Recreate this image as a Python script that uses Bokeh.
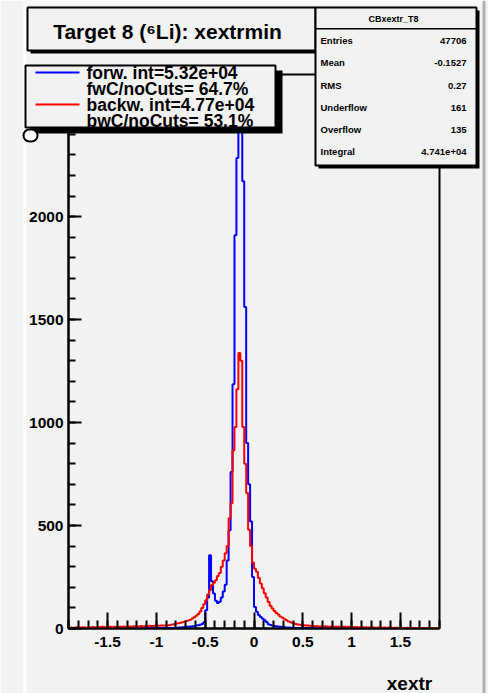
import numpy as np
from bokeh.plotting import figure
from bokeh.models import Range1d, FixedTicker, BoxAnnotation, Label
from bokeh.embed import file_html
from bokeh.resources import INLINE

# ---------------- data ----------------
bin_low = -1.9
bin_width = 0.02

forw_counts = [
    0, 0, 0, 0, 0, 0, 0, 0, 0, 0,
    0, 0, 0, 0, 0, 0, 0, 0, 0, 0,
    0, 0, 0, 0, 0, 0, 1, 0, 0, 0,
    0, 1, 0, 0, 1, 0, 0, 1, 0, 1,
    1, 0, 1, 1, 0, 1, 1, 2, 1, 2,
    2, 2, 3, 3, 4, 4, 5, 5, 6, 7,
    8, 9, 10, 11, 12, 14, 16, 18, 22, 30,
    89, 150, 356, 230, 170, 135, 124, 130, 150, 180,
    212, 330, 477, 760, 1186, 1909, 2284, 2560, 2480, 2172,
    1561, 901, 700, 520, 250, 105, 81, 65, 56, 47,
    40, 32, 21, 17, 14, 12, 11, 10, 8, 7,
    6, 5, 5, 4, 4, 3, 3, 3, 2, 2,
    2, 2, 2, 1, 1, 1, 1, 1, 1, 1,
    1, 1, 1, 0, 1, 1, 0, 1, 0, 1,
    0, 0, 1, 0, 0, 1, 0, 0, 0, 0,
    0, 0, 0, 0, 0, 0, 0, 0, 0, 0,
    0, 0, 0, 0, 0, 0, 0, 0, 0, 0,
    0, 0, 0, 0, 0, 0, 0, 0, 0, 0,
    0, 0, 0, 0, 0, 0, 0, 0, 0, 0,
]

backw_counts = [
    4, 5, 3, 5, 6, 4, 5, 6, 5, 4,
    6, 5, 7, 6, 5, 7, 6, 8, 7, 6,
    7, 8, 6, 9, 8, 7, 9, 8, 10, 9,
    8, 10, 9, 11, 10, 9, 11, 12, 10, 12,
    11, 13, 12, 12, 13, 14, 13, 15, 14, 15,
    15, 16, 18, 20, 22, 24, 26, 28, 30, 33,
    36, 39, 42, 48, 55, 62, 70, 82, 99, 118,
    137, 165, 186, 211, 222, 234, 255, 270, 300, 330,
    365, 400, 535, 608, 866, 979, 1162, 1338, 1300, 979,
    800, 658, 480, 400, 320, 290, 275, 245, 218, 195,
    171, 150, 129, 110, 97, 85, 75, 68, 58, 53,
    47, 41, 35, 32, 28, 24, 22, 20, 18, 17,
    16, 15, 14, 13, 12, 11, 11, 11, 10, 10,
    10, 11, 10, 9, 10, 9, 9, 8, 9, 8,
    8, 8, 7, 8, 7, 7, 6, 7, 6, 6,
    6, 5, 6, 5, 5, 6, 5, 4, 5, 5,
    4, 5, 4, 4, 5, 4, 3, 4, 4, 3,
    4, 3, 3, 4, 3, 3, 2, 3, 3, 2,
    3, 2, 3, 2, 2, 3, 2, 2, 3, 2,
]

x_tick_values = [-1.5, -1, -0.5, 0, 0.5, 1, 1.5]
x_tick_labels = ["-1.5", "-1", "-0.5", "0", "0.5", "1", "1.5"]
y_tick_values = [0, 500, 1000, 1500, 2000, 2500]
y_tick_labels = ["0", "500", "1000", "1500", "2000", "2500"]

title_text = "Target 8 (\u2076Li): xextrmin"
legend_texts = ["forw. int=5.32e+04", "fwC/noCuts= 64.7%",
                "backw. int=4.77e+04", "bwC/noCuts= 53.1%"]
stats_name = "CBxextr_T8"
stats_labels = ["Entries", "Mean", "RMS", "Underflow", "Overflow", "Integral"]
stats_values = ["47706", "-0.1527", "0.27", "161", "135", "4.741e+04"]
x_title = "xextr"

# ---------------- main figure ----------------
BG = "#f2f2f2"
FONT = "Liberation Sans"
W, H = 488, 693

n = len(forw_counts)
edges = np.round(bin_low + bin_width * np.arange(n + 1), 4)

p = figure(width=W, height=H,
           x_range=Range1d(-1.9, 1.9), y_range=Range1d(0, 2690),
           output_backend="svg", toolbar_location=None,
           min_border_left=68, min_border_right=49,
           min_border_top=74, min_border_bottom=65)
p.background_fill_color = BG
p.border_fill_color = BG
p.outline_line_color = "black"
p.outline_line_width = 2
p.xgrid.visible = False
p.ygrid.visible = False

p.step(edges, list(forw_counts) + [forw_counts[-1]], mode="after",
       line_color="#0000ff", line_width=2)
p.step(edges, list(backw_counts) + [backw_counts[-1]], mode="after",
       line_color="#ff0000", line_width=2)

x_minor = [round(v, 2) for v in np.arange(-1.9, 1.91, 0.1)]
y_minor = list(range(0, 2700, 100))
p.xaxis.ticker = FixedTicker(ticks=x_tick_values, minor_ticks=x_minor)
p.yaxis.ticker = FixedTicker(ticks=y_tick_values, minor_ticks=y_minor)
p.xaxis.major_label_overrides = {v: s for v, s in zip(x_tick_values, x_tick_labels)}
p.yaxis.major_label_overrides = {v: s for v, s in zip(y_tick_values, y_tick_labels)}

for ax in (p.xaxis[0], p.yaxis[0]):
    ax.axis_line_width = 2
    ax.axis_line_color = "black"
    ax.major_tick_line_width = 2
    ax.minor_tick_line_width = 2
    ax.major_tick_line_color = "black"
    ax.minor_tick_line_color = "black"
    ax.major_tick_out = 0
    ax.minor_tick_out = 0
    ax.major_label_text_font = FONT
    ax.major_label_text_font_style = "bold"
    ax.major_label_text_font_size = "15.5px"
    ax.major_label_text_color = "black"

p.xaxis.major_tick_in = 16
p.xaxis.minor_tick_in = 8
p.xaxis.major_label_standoff = 8
p.yaxis.major_tick_in = 13
p.yaxis.minor_tick_in = 7
p.yaxis.major_label_standoff = 5

# ---------------- overlay figure for the ROOT boxes ----------------
ov = figure(width=W, height=H, x_range=Range1d(0, W), y_range=Range1d(H, 0),
            output_backend="svg", toolbar_location=None, min_border=0,
            x_axis_type=None, y_axis_type=None)
ov.background_fill_alpha = 0
ov.border_fill_alpha = 0
ov.outline_line_color = None
ov.styles = {"position": "absolute", "left": "0px", "top": "0px",
             "pointer-events": "none"}


def box(left, right, top, bottom, fill, line=None, lw=2, radius=0):
    ov.add_layout(BoxAnnotation(left=left, right=right, top=top, bottom=bottom,
                                left_units="canvas", right_units="canvas",
                                top_units="canvas", bottom_units="canvas",
                                fill_color=fill, fill_alpha=1.0,
                                line_color=line if line else "black", line_width=lw,
                                line_alpha=1.0 if line else 0.0,
                                border_radius=radius))


def text(x, y, s, size, align="left", baseline="middle"):
    ov.add_layout(Label(x=x, y=y, x_units="canvas", y_units="canvas", text=s,
                        text_font=FONT, text_font_size=size, text_font_style="bold",
                        text_align=align, text_baseline=baseline, text_color="black"))


# canvas edges (ROOT canvas bevel)
box(23, 26, 0, H, "white")
box(23, 482, 0, 4, "#fafafa")
box(482, 485, 0, H, "#b0b0b0")

# title box
box(30, 318, 10, 53, "black")
box(27, 315, 7, 50, BG, "black")
text(167, 31, title_text, "21px", align="center")

# stats box
box(318, 479, 10, 168, "black")
box(315, 476, 7, 165, BG, "black")
box(315, 476, 27.5, 29, "black")
text(393, 18, stats_name, "9px", align="center")
for yy, lab, val in zip([40, 62, 85, 107, 129, 151], stats_labels, stats_values):
    text(320, yy, lab, "9.5px")
    text(466, yy, val, "9.5px", align="right")

# legend box
box(30, 282, 70, 133, "black")
box(25, 275, 65, 127, BG, "black")
box(35, 79, 71, 73, "#0000ff")
box(35, 79, 103, 105, "#ff0000")
for yy, s in zip([72, 88, 104, 120], legend_texts):
    text(86, yy, s, "17.5px")

# little marker left of the legend
box(23, 37, 129, 141, "white", "black", lw=2, radius=7)

# x axis title
text(409, 683, x_title, "19px", align="center")

open("out.html", "w").write(file_html([p, ov], INLINE))
